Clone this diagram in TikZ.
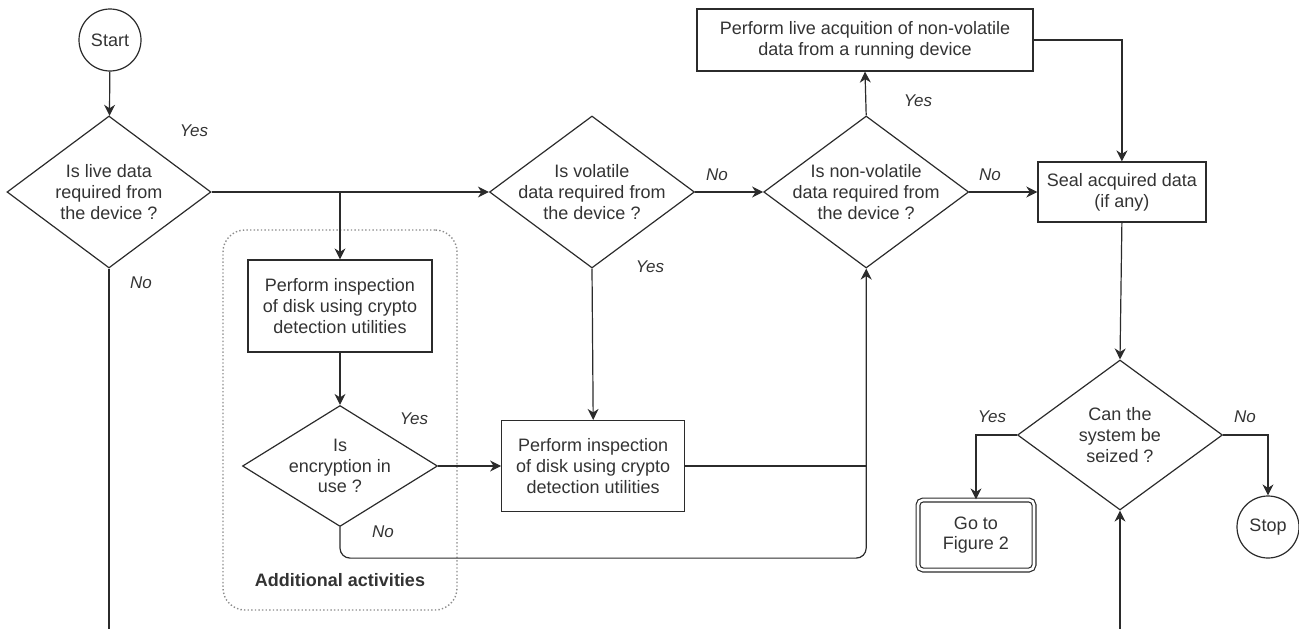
\documentclass[tikz,border=0pt]{standalone}
\usepackage{fontspec}
\setmainfont{Liberation Sans}
\usetikzlibrary{shapes.geometric,arrows.meta,positioning}
\definecolor{linec}{HTML}{2B2B2B}
\definecolor{textc}{HTML}{333333}
\definecolor{grpc}{HTML}{8C8C8C}

\tikzset{arr/.style={draw=linec,line width=1.2pt,-{Stealth[length=11pt,width=11pt,inset=3.5pt]}},
  wire/.style={draw=linec,line width=1.2pt},
  proc/.style={rectangle,draw=linec,line width=1.2pt,align=center,inner sep=0pt},
  decision/.style={diamond,draw=linec,line width=1.2pt,align=center,inner sep=-30pt,
    minimum width=205pt,minimum height=152pt},
  term/.style={circle,draw=linec,line width=1.2pt,minimum size=62pt,inner sep=0pt},
  answer/.style={font=\fontsize{17}{20}\selectfont\itshape},
  grp/.style={draw=grpc,dash pattern=on 1.4pt off 2.2pt,line width=1.4pt,rounded corners=22pt}}

\begin{document}
\begin{tikzpicture}[x=1pt,y=-1pt,font=\fontsize{18}{20.7}\selectfont,text=textc]
 \useasboundingbox (0,0) rectangle (1299,629);
 % group of extra steps
 \node[grp,minimum width=234pt,minimum height=380pt] (extra) at (340,420) {};
 \node[font=\fontsize{18}{20.7}\selectfont\bfseries] (extralbl) at (340,580) {Additional activities};
 % main flow
 \node[term] (start) at (110,40) {Start};
 \node[decision,minimum width=204pt] (live) at (109,192) {Is live data\\required from\\the device ?};
 \node[decision] (vol) at (592,192) {Is volatile\\data required from\\the device ?};
 \node[decision,right=68pt of vol] (nonvol) {Is non-volatile\\data required from\\the device ?};
 \node[proc,minimum width=336pt,minimum height=62pt] (acq) at (865,40)
  {Perform live acquition of non-volatile\\data from a running device};
 \node[proc,right=68pt of nonvol,minimum width=168pt,minimum height=60pt] (seal) {Seal acquired data\\(if any)};
 \node[proc,minimum width=184pt,minimum height=92pt] (insp1) at (340,306)
  {Perform inspection\\of disk using crypto\\detection utilities};
 \node[decision,minimum width=195pt,minimum height=121pt] (enc) at (340,466) {Is\\encryption in\\use ?};
 \node[proc,right=63pt of enc,minimum width=183pt,minimum height=91pt] (insp2)
  {Perform inspection\\of disk using crypto\\detection utilities};
 \node[decision,minimum height=150pt] (seize) at (1120,435) {Can the\\system be\\seized ?};
 \node[proc,double,double distance=2.6pt,rounded corners=5pt,minimum width=116pt,minimum height=70pt] (fig2)
  at (976,535) {Go to\\Figure 2};
 \node[term] (stop) at (1268,527) {Stop};
 \coordinate (out1) at (live.south |- 0,629);
 \coordinate (in4) at (seize.south |- 0,629);
 % answers
 \node[answer] (yes1) at (194,131) {Yes};
 \node[answer] (no1) at (141,283) {No};
 \node[answer] (no2) at (717,175) {No};
 \node[answer] (yes2) at (650,267) {Yes};
 \node[answer] (yes3) at (918,101) {Yes};
 \node[answer] (no3) at (990,175) {No};
 \node[answer] (yes5) at (414,419) {Yes};
 \node[answer] (no5) at (383,532) {No};
 \node[answer] (yes4) at (992,417) {Yes};
 \node[answer] (no4) at (1245,417) {No};
 % connectors
 \draw[arr] (start) -- (live);
 \draw[arr] (live.east) -- (vol.west);
 \draw[arr] (live.east -| insp1.north) -- (insp1.north);
 \draw[wire] (live.south) -- (out1);
 \draw[arr] (vol.east) -- (nonvol.west);
 \draw[arr] (vol.south) -- (insp2.north);
 \draw[arr] (nonvol.north) -- (acq.south);
 \draw[arr] (acq.east) -| (seal.north);
 \draw[arr] (nonvol.east) -- (seal.west);
 \draw[arr] (seal.south) -- (seize.north);
 \draw[arr] (insp1.south) -- (enc.north);
 \draw[arr] (enc.east) -- (insp2.west);
 \draw[wire] (insp2.east) -- (insp2.east -| nonvol.south);
 \draw[arr,rounded corners=10pt] (enc.south) -- ++(0,31) -| (nonvol.south);
 \draw[arr] (seize.west) -| (fig2.north);
 \draw[arr] (seize.east) -| (stop.north);
 \draw[arr] (in4) -- (seize.south);
\end{tikzpicture}
\end{document}
